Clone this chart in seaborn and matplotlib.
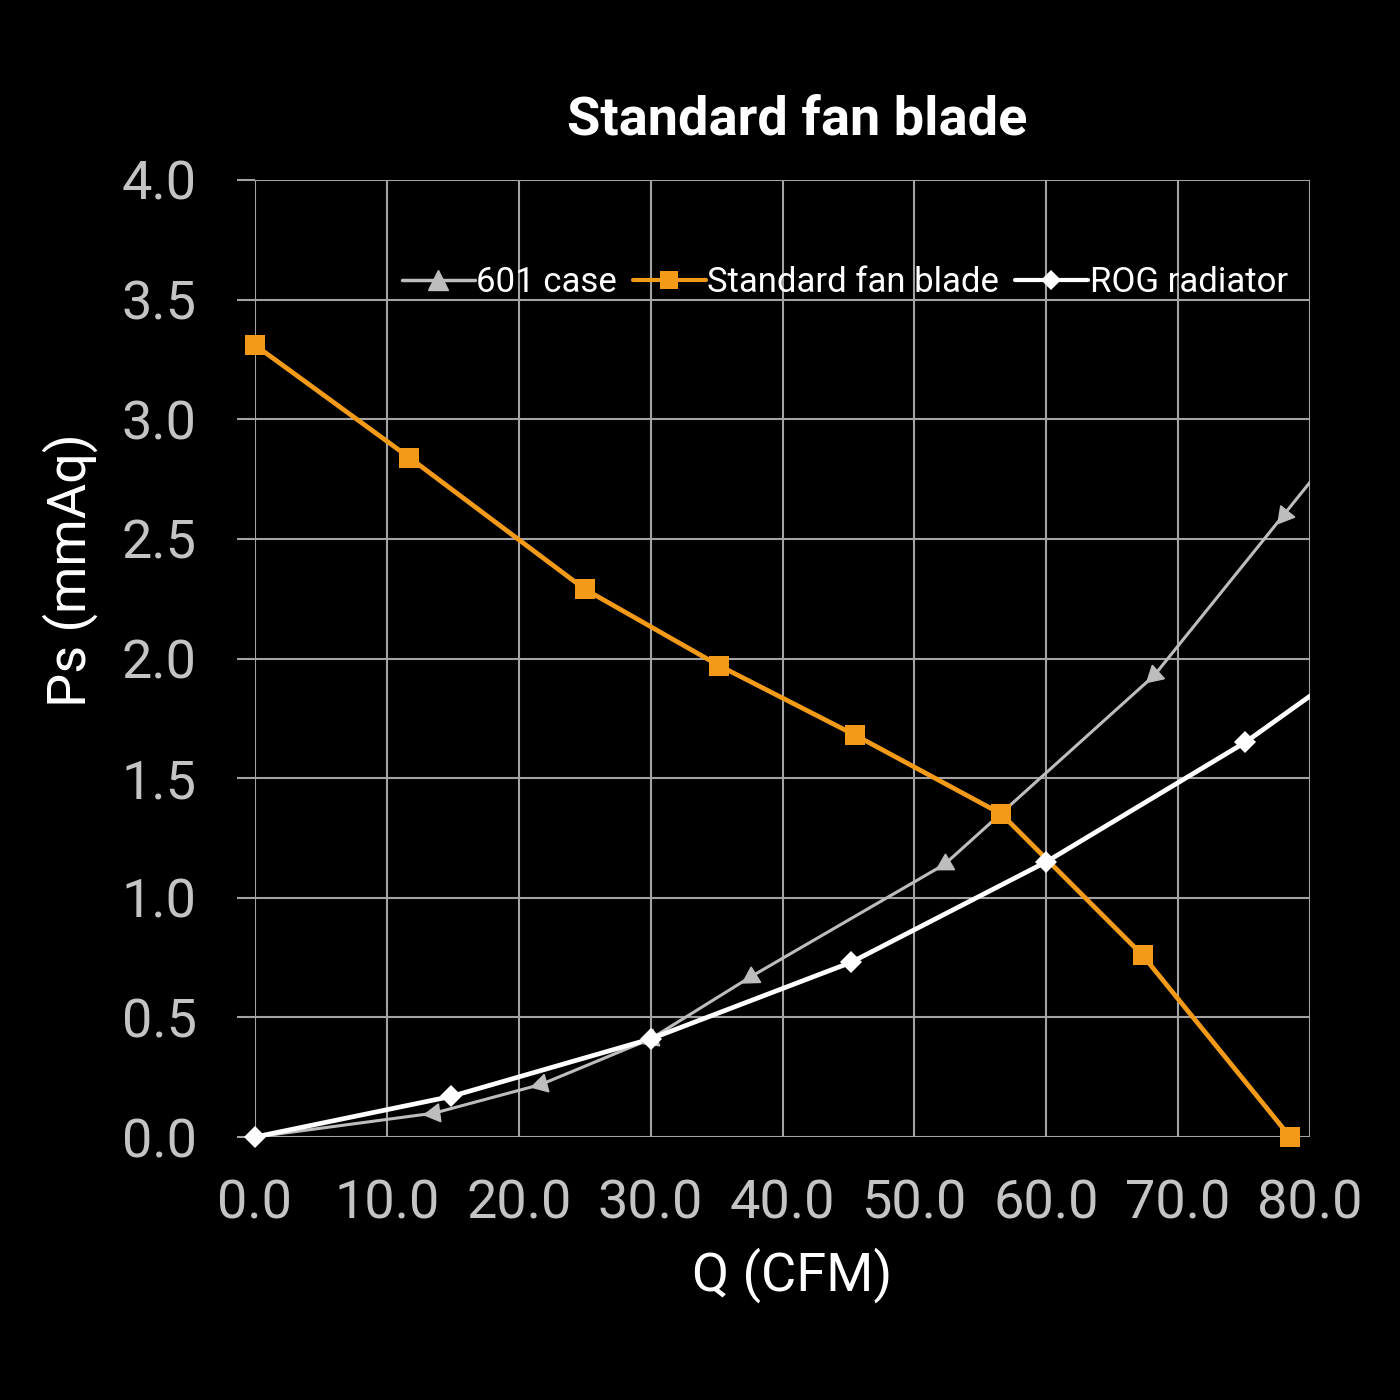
import numpy as np
import matplotlib
matplotlib.use("Agg")
import matplotlib.pyplot as plt
import seaborn as sns
from matplotlib.lines import Line2D

# 數據：從參考圖讀取 (Q 單位 CFM, Ps 單位 mmAq)
fan_q = [0.0, 11.7, 25.0, 35.2, 45.5, 56.6, 67.3, 78.5]
fan_ps = [3.31, 2.84, 2.29, 1.97, 1.68, 1.35, 0.76, 0.0]

case_q = [0.0, 13.6, 21.7, 30.0, 37.6, 52.3, 68.2, 78.0, 84.0]
case_ps = [0.0, 0.10, 0.22, 0.41, 0.67, 1.14, 1.93, 2.60, 3.01]

rog_q = [0.0, 14.9, 30.0, 45.2, 60.0, 75.1, 85.0]
rog_ps = [0.0, 0.17, 0.41, 0.73, 1.15, 1.65, 2.04]

x_ticks = [0, 10, 20, 30, 40, 50, 60, 70, 80]
y_ticks = [0.0, 0.5, 1.0, 1.5, 2.0, 2.5, 3.0, 3.5, 4.0]

ORANGE = '#F39B19'
GRAY = '#BDBDBD'
GRID = '#A3A3A3'
TICK = '#C4C4C4'
XMAX = 80

sns.set_theme(style='dark')
plt.rcParams['font.family'] = ['Roboto', 'DejaVu Sans']

fig = plt.figure(figsize=(14, 14), dpi=100, facecolor='black')
ax = fig.add_axes([255 / 1400, 1 - 1137 / 1400, 1055 / 1400, 957 / 1400])
ax.set_facecolor('black')
ax.set_xlim(0, XMAX)
ax.set_ylim(0, 4)

# 線 (裁切在繪圖區內)
sns.lineplot(x=case_q, y=case_ps, ax=ax, color=GRAY, linewidth=2.2,
             sort=False, estimator=None, zorder=3)
sns.lineplot(x=rog_q, y=rog_ps, ax=ax, color='white', linewidth=3.4,
             sort=False, estimator=None, zorder=4)
sns.lineplot(x=fan_q, y=fan_ps, ax=ax, color=ORANGE, linewidth=3.4,
             sort=False, estimator=None, zorder=5)

# 標記 (不裁切，只畫範圍內的點)
sx = 1055 / 80
sy = 957 / 4
for i in range(1, len(case_q)):
    if case_q[i] > XMAX:
        continue
    dx = (case_q[i - 1] - case_q[i]) * sx
    dy = (case_ps[i - 1] - case_ps[i]) * sy
    ang = np.degrees(np.arctan2(dy, dx)) - 90
    ax.plot(case_q[i], case_ps[i], marker=(3, 0, ang), markersize=15,
            color=GRAY, linestyle='none', zorder=4, clip_on=False)

rq = [q for q in rog_q if q <= XMAX]
rp = [p for q, p in zip(rog_q, rog_ps) if q <= XMAX]
ax.plot(rq, rp, marker='D', markersize=11, markeredgewidth=0, color='white',
        linestyle='none', zorder=6, clip_on=False)
ax.plot(fan_q, fan_ps, marker='s', markersize=14, markeredgewidth=0,
        color=ORANGE, linestyle='none', zorder=7, clip_on=False)

ax.set_xlim(0, XMAX)
ax.set_ylim(0, 4)
ax.set_xticks(x_ticks)
ax.set_yticks(y_ticks)
ax.set_xticklabels([f'{v:.1f}' for v in x_ticks])
ax.set_yticklabels([f'{v:.1f}' for v in y_ticks])
ax.grid(True, color=GRID, linewidth=1.5)
ax.set_axisbelow(True)
for s in ax.spines.values():
    s.set_visible(False)
ax.tick_params(axis='y', length=13, width=1.5, color=GRID, direction='out',
               pad=29, labelsize=39, labelcolor=TICK, left=True)
ax.tick_params(axis='x', length=0, pad=30, labelsize=39, labelcolor=TICK,
               bottom=True)

ax.set_xlabel('Q (CFM)', fontsize=39, color='white')
ax.set_ylabel('Ps (mmAq)', fontsize=39, color='white')
ax.xaxis.set_label_coords(0.509, -0.144)
ax.xaxis.label.set_va('center')
ax.yaxis.set_label_coords(-0.175, 0.5925)
ax.yaxis.label.set_va('center')

ax.text(0.514, 1.063, 'Standard fan blade', transform=ax.transAxes,
        ha='center', va='center', fontsize=39, fontweight='bold', color='white')

# 圖例 (手動 handle)
handles = [
    Line2D([], [], color=GRAY, linewidth=2.5, marker='^', markersize=14),
    Line2D([], [], color=ORANGE, linewidth=3, marker='s', markersize=13,
           markeredgewidth=0),
    Line2D([], [], color='white', linewidth=3, marker='D', markersize=10,
           markeredgewidth=0),
]
leg = ax.legend(handles, ['601 case', 'Standard fan blade', 'ROG radiator'],
                loc='center', bbox_to_anchor=(0.559, 0.893), ncol=3,
                frameon=False, fontsize=25, handlelength=2.1,
                handletextpad=0.05, columnspacing=0.45, borderpad=0)
for t in leg.get_texts():
    t.set_color('white')

fig.savefig('out.png', dpi=100, facecolor='black')
